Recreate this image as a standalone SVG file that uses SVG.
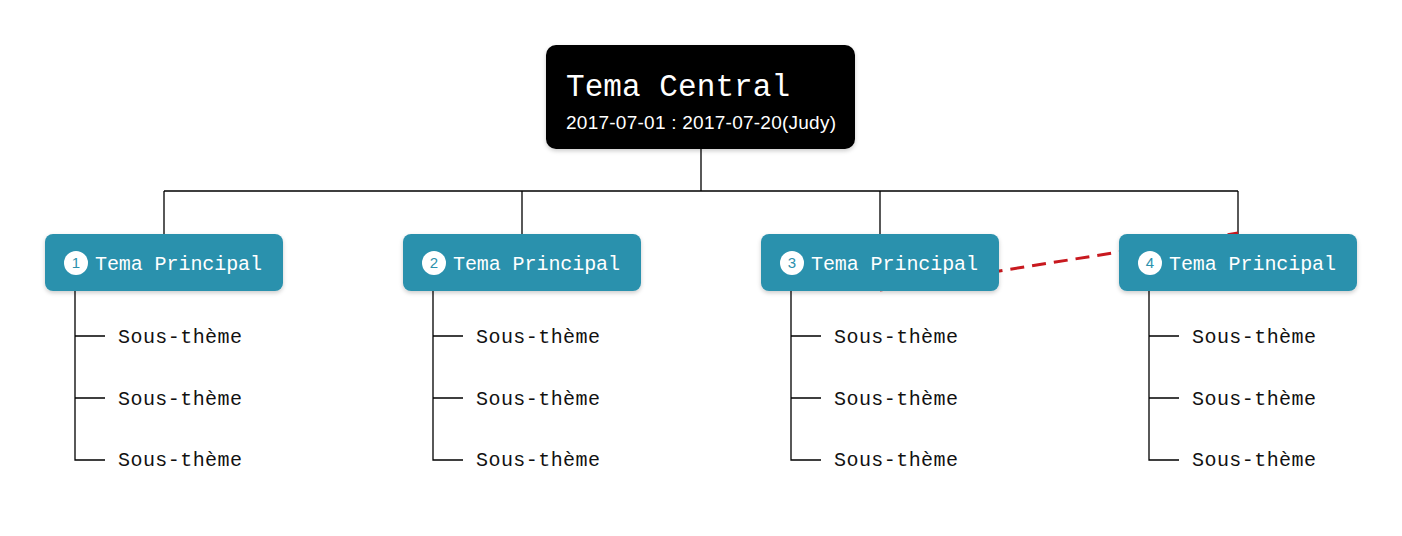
<svg xmlns="http://www.w3.org/2000/svg" width="1402" height="536" viewBox="0 0 1402 536">
<defs>
<style>
.main rect{fill:#2c91ad}
.mt{font-family:"Liberation Mono",monospace;font-size:20px;fill:#fff}
.num{font-family:"Liberation Sans",sans-serif;font-size:15px;fill:#2c91ad;text-anchor:middle}
.sub{font-family:"Liberation Mono",monospace;font-size:20px;fill:#111}
.ln{stroke:#000;stroke-width:1.3;fill:none}
</style>
<filter id="sh" x="-10%" y="-10%" width="120%" height="130%"><feDropShadow dx="0" dy="2" stdDeviation="2" flood-opacity="0.2"/></filter>
</defs>
<rect width="1402" height="536" fill="#fff"/>
<g id="connectors">
<path class="ln" d="M701 148V191M164 191H1238M164 191V235M522 191V235M880 191V235M1238 191V235"/>
<path class="ln" d="M75 290V460H105M75 336H105M75 398H105"/>
<path class="ln" d="M433 290V460H463M433 336H463M433 398H463"/>
<path class="ln" d="M791 290V460H821M791 336H821M791 398H821"/>
<path class="ln" d="M1149 290V460H1179M1149 336H1179M1149 398H1179"/>
<path d="M880 290L1238 233" stroke="#c8191f" stroke-width="3" stroke-dasharray="14 8" fill="none"/>
</g>
<g id="central">
<rect x="546" y="45" width="309" height="104" rx="10" fill="#000" filter="url(#sh)"/>
<text x="566" y="96" font-family="Liberation Mono,monospace" font-size="31" fill="#fff" textLength="224">Tema Central</text>
<text x="566" y="129" font-family="Liberation Sans,sans-serif" font-size="19" fill="#fff" textLength="270">2017-07-01 : 2017-07-20(Judy)</text>
</g>
<g id="main1" class="main"><rect x="45" y="234" width="238" height="57" rx="8" filter="url(#sh)"/><circle cx="76" cy="263" r="12" fill="#fff"/><text class="num" x="76" y="268">1</text><text class="mt" x="95" y="270" textLength="167">Tema Principal</text></g>
<g id="main2" class="main"><rect x="403" y="234" width="238" height="57" rx="8" filter="url(#sh)"/><circle cx="434" cy="263" r="12" fill="#fff"/><text class="num" x="434" y="268">2</text><text class="mt" x="453" y="270" textLength="167">Tema Principal</text></g>
<g id="main3" class="main"><rect x="761" y="234" width="238" height="57" rx="8" filter="url(#sh)"/><circle cx="792" cy="263" r="12" fill="#fff"/><text class="num" x="792" y="268">3</text><text class="mt" x="811" y="270" textLength="167">Tema Principal</text></g>
<g id="main4" class="main"><rect x="1119" y="234" width="238" height="57" rx="8" filter="url(#sh)"/><circle cx="1150" cy="263" r="12" fill="#fff"/><text class="num" x="1150" y="268">4</text><text class="mt" x="1169" y="270" textLength="167">Tema Principal</text></g>
<g id="subs">
<g id="s11"><text class="sub" x="118" y="343" textLength="124">Sous-thème</text></g>
<g id="s12"><text class="sub" x="118" y="405" textLength="124">Sous-thème</text></g>
<g id="s13"><text class="sub" x="118" y="466" textLength="124">Sous-thème</text></g>
<g id="s21"><text class="sub" x="476" y="343" textLength="124">Sous-thème</text></g>
<g id="s22"><text class="sub" x="476" y="405" textLength="124">Sous-thème</text></g>
<g id="s23"><text class="sub" x="476" y="466" textLength="124">Sous-thème</text></g>
<g id="s31"><text class="sub" x="834" y="343" textLength="124">Sous-thème</text></g>
<g id="s32"><text class="sub" x="834" y="405" textLength="124">Sous-thème</text></g>
<g id="s33"><text class="sub" x="834" y="466" textLength="124">Sous-thème</text></g>
<g id="s41"><text class="sub" x="1192" y="343" textLength="124">Sous-thème</text></g>
<g id="s42"><text class="sub" x="1192" y="405" textLength="124">Sous-thème</text></g>
<g id="s43"><text class="sub" x="1192" y="466" textLength="124">Sous-thème</text></g>
</g>
</svg>
